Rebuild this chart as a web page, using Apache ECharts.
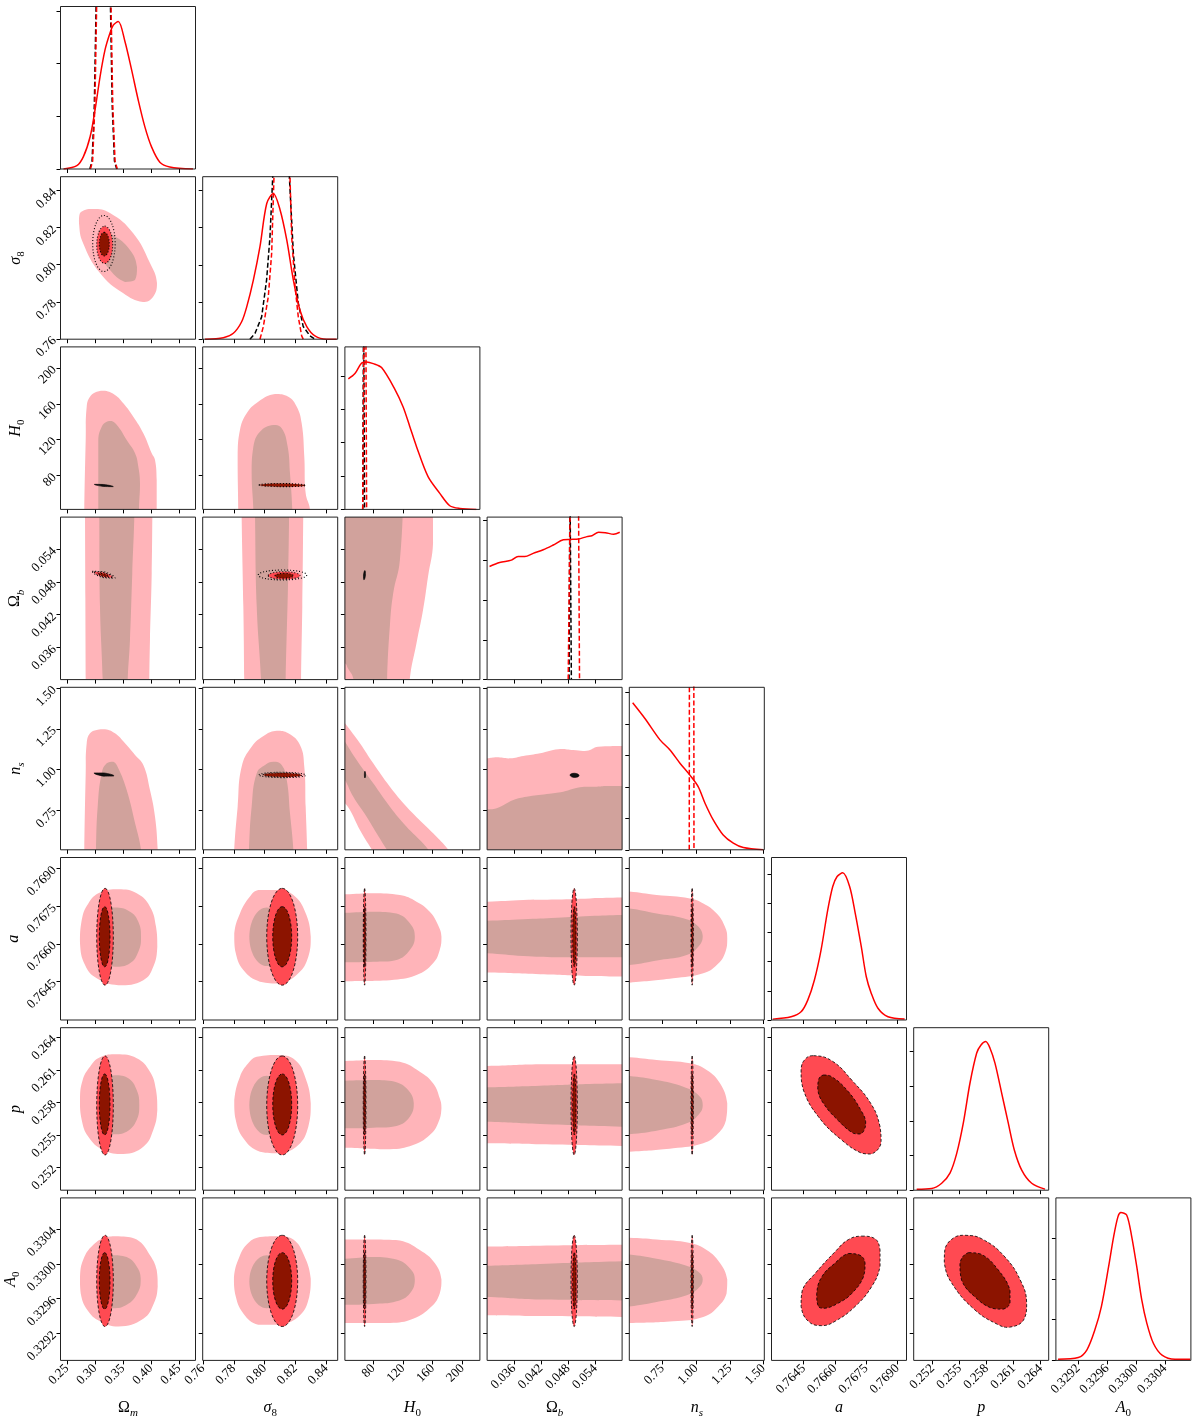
<!DOCTYPE html>
<html><head><meta charset="utf-8">
<script src="https://cdn.jsdelivr.net/npm/echarts@6/dist/echarts.min.js"></script>
<style>html,body{margin:0;padding:0;background:#fff}#c{width:1200px;height:1427px}</style>
</head><body><div id="c"></div>
<script>
// ---------------- parameters / axes ----------------
const PARAM_LABELS = ['{u|Ω}{si|m}', '{i|σ}{su|8}', '{i|H}{su|0}', '{u|Ω}{si|b}', '{i|n}{si|s}', '{i|a}', '{i|p}', '{i|A}{su|0}'];
const AXIS_MIN = [0.2386, 0.7598, 42, 0.0301, 0.504, 0.76296, 0.2499, 0.32889];
const AXIS_MAX = [0.4797, 0.8475, 223.5, 0.0599, 1.506, 0.76944, 0.2649, 0.33076];
const TICK_VALUES = [
  [0.25, 0.30, 0.35, 0.40, 0.45],
  [0.76, 0.78, 0.80, 0.82, 0.84],
  [80, 120, 160, 200],
  [0.036, 0.042, 0.048, 0.054],
  [0.75, 1.00, 1.25, 1.50],
  [0.7645, 0.7660, 0.7675, 0.7690],
  [0.252, 0.255, 0.258, 0.261, 0.264],
  [0.3292, 0.3296, 0.3300, 0.3304]
];
const TICK_LABELS = [
  ['0.25', '0.30', '0.35', '0.40', '0.45'],
  ['0.76', '0.78', '0.80', '0.82', '0.84'],
  ['80', '120', '160', '200'],
  ['0.036', '0.042', '0.048', '0.054'],
  ['0.75', '1.00', '1.25', '1.50'],
  ['0.7645', '0.7660', '0.7675', '0.7690'],
  ['0.252', '0.255', '0.258', '0.261', '0.264'],
  ['0.3292', '0.3296', '0.3300', '0.3304']
];
const DIAG_MAX = [3.084, 4.37, 4.87, 4.08, 5.16, 5.56, 4.68, 3.99];
const DIAG_TICKS = [[0,1,2,3],[0,1,2,3,4],[0,1,2,3,4],[0,1,2,3,4],[0,1,2,3,4,5],[0,1,2,3,4,5],[0,1,2,3,4],[0,1,2,3]];

// ---------------- 1D marginals (diagonal) ----------------
const RED0 = [[0.2440,0],[0.2678,0.063],[0.2795,0.234],[0.2915,0.613],[0.3003,1.12],[0.3092,1.75],[0.3181,2.26],[0.3270,2.58],[0.3329,2.73],[0.3418,2.80],[0.3537,2.42],[0.3656,1.88],[0.3774,1.31],[0.3893,0.80],[0.4012,0.42],[0.4160,0.13],[0.4338,0.04],[0.4752,0]];
const RED0_D = [[0.292,0],[0.296,0.15],[0.300,1.2],[0.304,3.6],[0.308,6.5],[0.312,8.5],[0.316,9],[0.320,8.5],[0.324,6.5],[0.328,3.6],[0.332,1.2],[0.336,0.15],[0.340,0]];
const BLK0_D = [[0.291,0],[0.295,0.15],[0.299,1.2],[0.303,3.6],[0.307,6.5],[0.311,8.5],[0.315,9],[0.319,8.5],[0.323,6.5],[0.327,3.6],[0.331,1.2],[0.335,0.15],[0.339,0]];
const RED1 = [[0.7613,0],[0.7732,0.04],[0.7797,0.16],[0.7851,0.47],[0.7884,0.87],[0.7927,1.59],[0.7970,2.49],[0.8014,3.65],[0.8057,3.92],[0.8100,3.49],[0.8144,2.67],[0.8187,1.59],[0.8230,0.78],[0.8274,0.34],[0.8327,0.09],[0.8403,0],[0.8468,0]];
const BLK1_D = [[0.7905,0],[0.7938,0.16],[0.7981,0.6],[0.8013,1.59],[0.8035,2.75],[0.8053,4.37],[0.8080,6.0],[0.8107,6.8],[0.8134,6.0],[0.8161,4.37],[0.8187,2.3],[0.8219,0.97],[0.8251,0.34],[0.8295,0.09],[0.8327,0]];
const RED1_D = [[0.7970,0],[0.7992,0.34],[0.8024,1.14],[0.8046,2.31],[0.8061,4.37],[0.8087,7],[0.8113,8],[0.8139,7],[0.8165,4.37],[0.8176,2.76],[0.8198,1.41],[0.8219,0.6],[0.8241,0.09],[0.8251,0]];
const RED2 = [[46.6,3.91],[55.5,4.07],[64.5,4.39],[71.2,4.42],[80.1,4.37],[91.3,4.25],[109.2,3.60],[120.3,3.07],[129.3,2.48],[138.3,1.88],[153.8,0.98],[169.6,0.48],[183.0,0.11],[196.4,0.03],[218.7,0]];
const RED2_D = [[65.9,0],[67.5,4.87],[68.9,30],[70.3,4.87],[71.2,0]];
const BLK2_D = [[66.0,0],[66.9,4.87],[67.2,40],[67.5,4.87],[68.4,0]];
const RED3 = [[0.03064,2.84],[0.03287,2.94],[0.03547,3.0],[0.03693,3.09],[0.03842,3.09],[0.04027,3.17],[0.04249,3.26],[0.04471,3.38],[0.04693,3.51],[0.04842,3.52],[0.05026,3.53],[0.05213,3.59],[0.05324,3.61],[0.05471,3.70],[0.05620,3.69],[0.05804,3.65],[0.05938,3.70]];
const RED3_D = [[0.0480,0],[0.0484,4.08],[0.0493,40],[0.0503,4.08],[0.0505,0]];
const BLK3_D = [[0.0482,0],[0.04835,4.08],[0.0484,60],[0.04845,4.08],[0.0487,0]];
const RED4 = [[0.529,4.67],[0.620,4.17],[0.732,3.49],[0.806,3.17],[0.880,2.75],[0.954,2.37],[1.016,2.0],[1.066,1.48],[1.127,0.95],[1.201,0.47],[1.276,0.21],[1.350,0.07],[1.498,0]];
const RED4_D = [[0.949,0],[0.950,5.16],[0.966,50],[0.983,5.16],[0.984,0]];
const RED5 = [[0.76302,0.03],[0.76390,0.11],[0.76438,0.28],[0.76470,0.68],[0.76502,1.37],[0.76534,2.40],[0.76566,3.77],[0.76590,4.57],[0.76611,4.91],[0.76638,5.04],[0.76671,4.57],[0.76698,3.65],[0.76727,2.51],[0.76751,1.48],[0.76775,0.91],[0.76807,0.40],[0.76855,0.11],[0.76935,0.03]];
const RED6 = [[0.25023,0.03],[0.25190,0.05],[0.25301,0.2],[0.25393,0.49],[0.25468,1.06],[0.25541,1.93],[0.25615,3.08],[0.25690,3.95],[0.25738,4.18],[0.25790,4.28],[0.25838,4.09],[0.25893,3.66],[0.25968,2.79],[0.26041,1.93],[0.26108,1.16],[0.26190,0.58],[0.26301,0.2],[0.26449,0.03]];
const RED7 = [[0.32892,0.03],[0.32920,0.07],[0.32932,0.26],[0.32943,0.75],[0.32952,1.32],[0.32962,2.30],[0.32969,3.04],[0.32975,3.53],[0.32979,3.63],[0.32987,3.57],[0.32994,3.04],[0.33001,2.30],[0.33008,1.48],[0.33015,0.91],[0.33024,0.42],[0.33036,0.13],[0.33054,0.03],[0.33075,0.03]];

// ---------------- 2D contours: broad posterior (pink = 2σ, grey = 1σ) ----------------
const S10_PINK = [[0.2734,0.8279],[0.2966,0.8301],[0.3270,0.8279],[0.3681,0.8171],[0.3984,0.8009],[0.4109,0.7901],[0.4038,0.7826],[0.3859,0.7799],[0.3502,0.7847],[0.3091,0.7955],[0.2788,0.8117],[0.2716,0.8225]];
const S10_GREY = [[0.3091,0.8187],[0.3324,0.8160],[0.3627,0.8079],[0.3752,0.7988],[0.3716,0.7917],[0.3538,0.7907],[0.3270,0.7971],[0.3091,0.8063],[0.3056,0.8133]];
const S20_PINK = [[0.2811,20],[0.2811,42],[0.2836,119.5],[0.2854,156.7],[0.2913,167.9],[0.3033,173.5],[0.3181,174.6],[0.3359,169.8],[0.3508,160.5],[0.3686,145.5],[0.3865,127.0],[0.4015,104.7],[0.4074,97.2],[0.4104,74.8],[0.4104,42],[0.4104,20]];
const S20_GREY = [[0.3061,20],[0.3061,42],[0.3061,119.5],[0.3122,134.4],[0.3211,140.0],[0.3300,140.7],[0.3418,134.4],[0.3568,119.5],[0.3717,104.7],[0.3776,89.7],[0.3806,71.2],[0.3788,42],[0.3788,20]];
const S21_PINK = [[0.7829,20],[0.7829,42],[0.7825,100.9],[0.7840,130.7],[0.7884,149.3],[0.7959,162.3],[0.8068,170.9],[0.8154,167.9],[0.8209,156.7],[0.8241,138.2],[0.8258,100.9],[0.8267,60.0],[0.8295,42],[0.8295,20]];
const S21_GREY = [[0.7927,20],[0.7927,42],[0.7916,82.3],[0.7927,112.0],[0.7970,128.8],[0.8057,136.3],[0.8111,132.6],[0.8150,112.0],[0.8165,82.3],[0.8180,42],[0.8180,20]];
const S30_PINK = [[0.2824,0.064],[0.4028,0.064],[0.4026,0.0599],[0.4015,0.0496],[0.3984,0.0374],[0.3972,0.0301],[0.3970,0.026],[0.2836,0.026],[0.2836,0.0301],[0.2830,0.045],[0.2824,0.0599]];
const S30_GREY = [[0.3079,0.064],[0.3704,0.064],[0.3704,0.0599],[0.3668,0.0496],[0.3627,0.0374],[0.3586,0.0301],[0.3583,0.026],[0.3140,0.026],[0.3140,0.0301],[0.3091,0.0435],[0.3079,0.0599]];
const S31_PINK = [[0.7851,0.064],[0.8251,0.064],[0.8251,0.0599],[0.8245,0.0435],[0.8237,0.0301],[0.8237,0.026],[0.7868,0.026],[0.7868,0.0301],[0.7862,0.0435],[0.7851,0.0599]];
const S31_GREY = [[0.7938,0.064],[0.8159,0.064],[0.8159,0.0599],[0.8154,0.0496],[0.8137,0.0301],[0.8137,0.026],[0.7977,0.026],[0.7977,0.0301],[0.7949,0.0435],[0.7938,0.0599]];
const S32_PINK = [[20,0.066],[159,0.066],[160.5,0.0551],[153.8,0.0490],[147.1,0.0429],[138.3,0.0368],[129.3,0.0303],[127,0.024],[20,0.024]];
const S32_GREY = [[20,0.066],[120.3,0.066],[115.9,0.0520],[106.9,0.0459],[102.5,0.0400],[98.8,0.0303],[98.4,0.024],[57,0.024],[53.3,0.0303],[46,0.0322],[42.1,0.0331],[20,0.0345]];
const S40_PINK = [[0.2811,0.40],[0.2811,0.504],[0.2836,0.976],[0.2854,1.161],[0.2913,1.222],[0.3033,1.243],[0.3181,1.247],[0.3359,1.222],[0.3538,1.161],[0.3717,1.089],[0.3865,1.027],[0.3984,0.873],[0.4074,0.708],[0.4122,0.504],[0.4122,0.40]];
const S40_GREY = [[0.3020,0.40],[0.3020,0.504],[0.3050,0.770],[0.3122,0.976],[0.3211,1.037],[0.3329,1.047],[0.3418,1.007],[0.3568,0.873],[0.3717,0.670],[0.3824,0.504],[0.3824,0.40]];
const S41_PINK = [[0.7803,0.40],[0.7803,0.504],[0.7825,0.770],[0.7851,1.016],[0.7916,1.140],[0.8003,1.212],[0.8079,1.238],[0.8154,1.222],[0.8230,1.150],[0.8258,1.016],[0.8267,0.770],[0.8277,0.504],[0.8277,0.40]];
const S41_GREY = [[0.7899,0.40],[0.7899,0.504],[0.7916,0.770],[0.7949,0.976],[0.8003,1.027],[0.8057,1.047],[0.8111,1.027],[0.8144,0.934],[0.8165,0.729],[0.8187,0.504],[0.8187,0.40]];
const S42_PINK = [[20,1.418],[42.1,1.284],[62.2,1.161],[80.1,1.037],[102.5,0.893],[124.9,0.770],[151.7,0.646],[169.6,0.564],[180.6,0.507],[190,0.45],[85.4,0.45],[77.9,0.507],[62.2,0.626],[48.8,0.749],[42.1,0.791],[20,0.91]];
const S42_GREY = [[20,1.33],[42.1,1.171],[57.8,1.058],[80.1,0.914],[102.5,0.770],[124.9,0.646],[142.7,0.564],[153.8,0.507],[161.5,0.45],[105.7,0.45],[98.0,0.507],[84.6,0.606],[71.2,0.708],[53.3,0.831],[42.1,0.934],[20,1.10]];
const S43_PINK = [[0.026,1.068],[0.0301,1.068],[0.0322,1.074],[0.0352,1.068],[0.0381,1.082],[0.0418,1.099],[0.0458,1.124],[0.0491,1.119],[0.0521,1.115],[0.0546,1.140],[0.0600,1.144],[0.064,1.144],[0.064,0.40],[0.026,0.40]];
const S43_GREY = [[0.026,0.754],[0.0301,0.754],[0.0322,0.760],[0.0359,0.811],[0.0388,0.831],[0.0433,0.848],[0.0469,0.862],[0.0506,0.889],[0.0543,0.893],[0.0565,0.897],[0.0600,0.897],[0.064,0.897],[0.064,0.40],[0.026,0.40]];
const S50_PINK = [[0.3418,0.76817],[0.3747,0.76801],[0.3984,0.76748],[0.4092,0.76668],[0.4115,0.76588],[0.4043,0.76508],[0.3865,0.76455],[0.3418,0.76435],[0.3033,0.76462],[0.2824,0.76515],[0.2734,0.76602],[0.2765,0.76695],[0.2883,0.76761],[0.3091,0.76804]];
const S50_GREY = [[0.3359,0.76745],[0.3627,0.76728],[0.3776,0.76688],[0.3824,0.76626],[0.3776,0.76568],[0.3627,0.76522],[0.3359,0.76508],[0.3150,0.76530],[0.3080,0.76626],[0.3150,0.76725]];
const S51_PINK = [[0.7959,0.76814],[0.8100,0.76814],[0.8187,0.76794],[0.8263,0.76728],[0.8300,0.76628],[0.8284,0.76548],[0.8219,0.76482],[0.8100,0.76442],[0.7970,0.76449],[0.7862,0.76495],[0.7808,0.76575],[0.7803,0.76642],[0.7840,0.76721],[0.7905,0.76788]];
const S51_GREY = [[0.8014,0.76745],[0.8122,0.76628],[0.8014,0.76511],[0.7901,0.76628]];
const S52_PINK = [[20,0.76797],[42.1,0.76797],[80.1,0.76801],[115.9,0.76794],[138.3,0.76768],[156.1,0.76728],[167.2,0.76675],[171.8,0.76628],[169.5,0.76575],[160.5,0.76522],[138.3,0.76475],[102.5,0.76455],[42.1,0.76451],[20,0.76451]];
const S52_GREY = [[20,0.76724],[42.1,0.76724],[80.1,0.76728],[111.4,0.76721],[129.3,0.76682],[136.0,0.76628],[129.3,0.76575],[111.4,0.76535],[80.1,0.76528],[42.1,0.76526],[20,0.76526]];
const S53_PINK = [[0.026,0.76768],[0.0301,0.76768],[0.0381,0.76775],[0.0455,0.76777],[0.0528,0.76781],[0.0599,0.76784],[0.064,0.76784],[0.064,0.76469],[0.0599,0.76469],[0.0528,0.76471],[0.0418,0.76478],[0.0301,0.76485],[0.026,0.76485]];
const S53_GREY = [[0.026,0.76692],[0.0301,0.76692],[0.0381,0.76698],[0.0455,0.76704],[0.0528,0.76711],[0.0599,0.76715],[0.064,0.76715],[0.064,0.76546],[0.0599,0.76546],[0.0455,0.76546],[0.0381,0.76551],[0.0301,0.76562],[0.026,0.76562]];
const S54_PINK = [[0.40,0.76808],[0.504,0.76808],[0.707,0.76794],[0.954,0.76781],[1.053,0.76761],[1.153,0.76721],[1.214,0.76668],[1.231,0.76622],[1.214,0.76562],[1.153,0.76515],[1.053,0.76482],[0.830,0.76462],[0.504,0.76445],[0.40,0.76445]];
const S54_GREY = [[0.40,0.76741],[0.504,0.76741],[0.707,0.76721],[0.905,0.76702],[1.004,0.76675],[1.049,0.76631],[1.016,0.76588],[0.930,0.76555],[0.732,0.76535],[0.504,0.76515],[0.40,0.76515]];
const S60_PINK = [[0.3390,0.26244],[0.3747,0.26208],[0.3984,0.26084],[0.4092,0.25915],[0.4115,0.25730],[0.4043,0.25546],[0.3865,0.25392],[0.3508,0.25324],[0.3150,0.25361],[0.2883,0.25484],[0.2765,0.25638],[0.2734,0.25823],[0.2782,0.26007],[0.2913,0.26130],[0.3091,0.26217]];
const S60_GREY = [[0.3359,0.26051],[0.3597,0.26023],[0.3747,0.25915],[0.3793,0.25777],[0.3747,0.25638],[0.3568,0.25530],[0.3329,0.25506],[0.3150,0.25560],[0.3080,0.25777],[0.3150,0.26000]];
const S61_PINK = [[0.7949,0.26222],[0.8100,0.26238],[0.8198,0.26192],[0.8263,0.26038],[0.8300,0.25792],[0.8284,0.25576],[0.8219,0.25407],[0.8100,0.25331],[0.7970,0.25345],[0.7862,0.25469],[0.7808,0.25669],[0.7803,0.25823],[0.7840,0.26038],[0.7894,0.26161]];
const S61_GREY = [[0.8014,0.26047],[0.8122,0.25777],[0.8014,0.25500],[0.7901,0.25777]];
const S62_PINK = [[20,0.26183],[42.1,0.26183],[80.1,0.26192],[115.9,0.26176],[142.7,0.26084],[160.5,0.25977],[169.5,0.25838],[171.8,0.25746],[167.2,0.25608],[156.1,0.25500],[133.7,0.25407],[102.5,0.25368],[42.1,0.25382],[20,0.25382]];
const S62_GREY = [[20,0.26001],[42.1,0.26001],[80.1,0.26007],[109.2,0.25992],[127.0,0.25915],[134.6,0.25792],[129.3,0.25669],[111.4,0.25583],[80.1,0.25567],[42.1,0.25561],[20,0.25561]];
const S63_PINK = [[0.026,0.26136],[0.0301,0.26136],[0.0418,0.26152],[0.0599,0.26152],[0.064,0.26152],[0.064,0.25398],[0.0599,0.25398],[0.0418,0.25414],[0.0301,0.25423],[0.026,0.25423]];
const S63_GREY = [[0.026,0.25940],[0.0301,0.25940],[0.0418,0.25955],[0.0528,0.25970],[0.0599,0.25977],[0.064,0.25977],[0.064,0.25576],[0.0599,0.25576],[0.0418,0.25601],[0.0301,0.25622],[0.026,0.25622]];
const S64_PINK = [[0.40,0.26217],[0.504,0.26217],[0.707,0.26192],[0.954,0.26161],[1.078,0.26100],[1.177,0.25977],[1.231,0.25792],[1.222,0.25638],[1.164,0.25515],[1.053,0.25423],[0.830,0.25377],[0.504,0.25345],[0.40,0.25345]];
const S64_GREY = [[0.40,0.26044],[0.504,0.26044],[0.707,0.26007],[0.905,0.25945],[1.016,0.25869],[1.049,0.25777],[1.016,0.25684],[0.930,0.25608],[0.732,0.25546],[0.504,0.25506],[0.40,0.25506]];
const S70_PINK = [[0.3418,0.33032],[0.3747,0.33028],[0.3984,0.33010],[0.4104,0.32993],[0.4122,0.32974],[0.4056,0.32955],[0.3865,0.32937],[0.3418,0.32928],[0.3091,0.32934],[0.2865,0.32947],[0.2747,0.32966],[0.2734,0.32985],[0.2793,0.33005],[0.2972,0.33022],[0.3211,0.33031]];
const S70_GREY = [[0.3300,0.33010],[0.3568,0.33008],[0.3747,0.32997],[0.3818,0.32982],[0.3758,0.32966],[0.3568,0.32953],[0.3329,0.32949],[0.3150,0.32958],[0.3080,0.32980],[0.3150,0.33003]];
const S71_PINK = [[0.7970,0.33031],[0.8100,0.33032],[0.8187,0.33028],[0.8256,0.33010],[0.8300,0.32983],[0.8290,0.32962],[0.8230,0.32941],[0.8100,0.32930],[0.7959,0.32930],[0.7862,0.32943],[0.7808,0.32966],[0.7801,0.32985],[0.7836,0.33008],[0.7894,0.33024]];
const S71_GREY = [[0.8014,0.33010],[0.8122,0.32980],[0.8014,0.32949],[0.7901,0.32980]];
const S72_PINK = [[20,0.33028],[42.1,0.33028],[80.1,0.33028],[115.9,0.33027],[142.7,0.33016],[162.8,0.33001],[171.8,0.32982],[169.5,0.32966],[158.4,0.32951],[133.7,0.32937],[102.5,0.32932],[42.1,0.32932],[20,0.32932]];
const S72_GREY = [[20,0.33006],[42.1,0.33006],[80.1,0.33008],[111.4,0.33005],[129.3,0.32995],[136.0,0.32982],[129.3,0.32966],[111.4,0.32957],[80.1,0.32954],[42.1,0.32953],[20,0.32953]];
const S73_PINK = [[0.026,0.33020],[0.0301,0.33020],[0.0418,0.33021],[0.0599,0.33022],[0.064,0.33022],[0.064,0.32939],[0.0599,0.32939],[0.0418,0.32940],[0.0301,0.32941],[0.026,0.32941]];
const S73_GREY = [[0.026,0.32998],[0.0301,0.32998],[0.0418,0.33000],[0.0599,0.33003],[0.064,0.33003],[0.064,0.32958],[0.0599,0.32958],[0.0418,0.32959],[0.0301,0.32962],[0.026,0.32962]];
const S74_PINK = [[0.40,0.33030],[0.504,0.33030],[0.707,0.33028],[0.954,0.33024],[1.078,0.33016],[1.177,0.33001],[1.231,0.32982],[1.226,0.32966],[1.164,0.32951],[1.053,0.32939],[0.830,0.32934],[0.504,0.32932],[0.40,0.32932]];
const S74_GREY = [[0.40,0.33011],[0.504,0.33011],[0.707,0.33006],[0.905,0.32999],[1.016,0.32991],[1.049,0.32982],[1.016,0.32972],[0.930,0.32964],[0.732,0.32957],[0.504,0.32951],[0.40,0.32951]];

// ---------------- 2D contours: narrow posteriors ----------------
const S10_OUT = [[0.3161,0.8266],[0.3362,0.8114],[0.3161,0.7963],[0.2961,0.8114]];
const S10_RED = [[0.3175,0.8208],[0.3318,0.8107],[0.3175,0.8007],[0.3033,0.8107]];
const S10_DARK = [[0.3168,0.8175],[0.3258,0.8111],[0.3168,0.8047],[0.3079,0.8111]];
const S20_BLOB = [[0.2990,70.0],[0.3160,69.8],[0.3329,67.4],[0.3160,67.6]];
const S21_OUT = [[0.7964,69.3],[0.8115,71.0],[0.8267,68.8],[0.8115,67.4]];
const S30_OUT = [[0.2954,0.04995],[0.3160,0.04990],[0.3359,0.04873],[0.3160,0.04878]];
const S30_RED = [[0.2990,0.04985],[0.3160,0.04975],[0.3320,0.04880],[0.3160,0.04890]];
const S30_DARK = [[0.3060,0.04960],[0.3160,0.04955],[0.3250,0.04900],[0.3160,0.04905]];
const S31_OUT = [[0.7959,0.04928],[0.8116,0.05020],[0.8274,0.04928],[0.8116,0.04837]];
const S31_RED = [[0.8024,0.04919],[0.8127,0.04989],[0.8230,0.04919],[0.8127,0.04849]];
const S31_DARK = [[0.8068,0.04913],[0.8127,0.04959],[0.8187,0.04913],[0.8127,0.04868]];
const S32_BLOB = [[68.9,0.0501],[69.6,0.04925],[67.6,0.0484],[67.0,0.04925]];
const S40_BLOB = [[0.2984,0.978],[0.3160,0.978],[0.3341,0.960],[0.3160,0.958]];
const S41_OUT = [[0.7964,0.966],[0.8115,0.982],[0.8267,0.964],[0.8115,0.949]];
const S41_DARK = [[0.7990,0.966],[0.8115,0.978],[0.8240,0.964],[0.8115,0.953]];
const S42_BLOB = [[68.9,0.988],[69.8,0.967],[68.9,0.947],[68.2,0.967]];
const S43_BLOB = [[0.0484,0.965],[0.0494,0.976],[0.0504,0.962],[0.0494,0.950]];
// 2σ / 1σ extents of the narrow posterior for each parameter (rows 5-7)
const NARROW_2SIG = [[0.3033,0.3329],[0.8014,0.8215],[66.7,70.3],[0.04862,0.05001],[0.962,0.979],[0.76435,0.76821],[0.25315,0.26229],[0.32928,0.33033]];
const NARROW_1SIG = [[0.3079,0.3270],[0.8053,0.8176],[67.5,69.5],[0.04899,0.04972],[0.966,0.975],[0.76508,0.76748],[0.25500,0.26063],[0.32948,0.33013]];
const S65_OUT = [[0.76497,0.26232],[0.76585,0.26185],[0.76681,0.26007],[0.76777,0.25777],[0.76817,0.25576],[0.76822,0.25423],[0.76777,0.25324],[0.76729,0.25331],[0.76633,0.25453],[0.76521,0.25669],[0.76449,0.25915],[0.76438,0.26100],[0.76457,0.26198]];
const S65_IN = [[0.76545,0.26053],[0.76585,0.26038],[0.76665,0.25899],[0.76729,0.25715],[0.76748,0.25622],[0.76741,0.25546],[0.76721,0.25509],[0.76689,0.25515],[0.76617,0.25632],[0.76545,0.25792],[0.76518,0.25915],[0.76521,0.26007]];
const S75_OUT = [[0.76729,0.33032],[0.76793,0.33029],[0.76817,0.33016],[0.76817,0.32997],[0.76777,0.32974],[0.76697,0.32951],[0.76601,0.32934],[0.76537,0.32929],[0.76473,0.32934],[0.76438,0.32951],[0.76444,0.32970],[0.76505,0.32989],[0.76601,0.33014],[0.76665,0.33028]];
const S75_IN = [[0.76665,0.33012],[0.76721,0.33010],[0.76745,0.33001],[0.76737,0.32985],[0.76681,0.32966],[0.76617,0.32955],[0.76553,0.32949],[0.76521,0.32951],[0.76513,0.32966],[0.76537,0.32985],[0.76601,0.33001]];
const S76_OUT = [[0.25560,0.33033],[0.25745,0.33029],[0.26004,0.33008],[0.26190,0.32978],[0.26245,0.32955],[0.26208,0.32935],[0.26041,0.32927],[0.25930,0.32930],[0.25671,0.32947],[0.25412,0.32978],[0.25330,0.33001],[0.25338,0.33018],[0.25449,0.33031]];
const S76_IN = [[0.25597,0.33013],[0.25745,0.33011],[0.25930,0.32993],[0.26060,0.32970],[0.26060,0.32955],[0.25985,0.32948],[0.25857,0.32949],[0.25671,0.32962],[0.25523,0.32981],[0.25504,0.33001]];

// ---------------- styles ----------------
const C_PINK = '#FFB4B9', C_GREY = '#D1A29C', C_RED = '#FF4A52', C_DARK = '#8C1400';
const ST = {
  pink: {fill: C_PINK},
  grey: {fill: C_GREY},
  red: {fill: C_RED, stroke: '#000', lineWidth: 0.8, lineDash: [3, 2]},
  dark: {fill: C_DARK, stroke: '#000', lineWidth: 0.8, lineDash: [3, 2]},
  dot: {fill: 'none', stroke: '#000', lineWidth: 1.1, lineDash: [1, 2]},
  redDot: {fill: C_RED, stroke: '#000', lineWidth: 1.1, lineDash: [1, 2]},
  darkDot: {fill: C_DARK, stroke: '#000', lineWidth: 1.1, lineDash: [1, 2]},
  blob: {fill: '#111', stroke: '#000', lineWidth: 0.6}
};
const TICK_FONT = 'Liberation Serif';
const NAME_FONT = 'Liberation Serif';
const RICH = {
  u: {fontFamily: NAME_FONT, fontSize: 16, lineHeight: 22, color: '#000'},
  i: {fontFamily: NAME_FONT, fontStyle: 'italic', fontSize: 16, lineHeight: 22, color: '#000'},
  su: {fontFamily: NAME_FONT, fontSize: 11, lineHeight: 12, verticalAlign: 'bottom', color: '#000'},
  si: {fontFamily: NAME_FONT, fontStyle: 'italic', fontSize: 11, lineHeight: 12, verticalAlign: 'bottom', color: '#000'}
};

function makeFmt(p) {
  return function (v) {
    const t = TICK_VALUES[p];
    let b = 0;
    for (let i = 1; i < t.length; i++) if (Math.abs(t[i] - v) < Math.abs(t[b] - v)) b = i;
    return TICK_LABELS[p][b];
  };
}

// ---------------- build option ----------------
const grids = [], xAxis = [], yAxis = [], series = [];
const GI = {};
for (let r = 0; r < 8; r++) {
  for (let c = 0; c <= r; c++) {
    const gi = grids.length;
    GI[r * 8 + c] = gi;
    grids.push({left: 60.5 + c * 142.2, top: 6.5 + r * 170.2, width: 135, height: 162.5, show: false});
    xAxis.push({
      type: 'value', gridIndex: gi, min: AXIS_MIN[c], max: AXIS_MAX[c],
      axisLine: {show: false}, splitLine: {show: false},
      axisTick: {show: true, length: 4, customValues: TICK_VALUES[c], lineStyle: {color: '#000', width: 1}},
      axisLabel: {show: r === 7, customValues: TICK_VALUES[c], rotate: 45, margin: 6, fontFamily: TICK_FONT, fontSize: 13, color: '#000', formatter: makeFmt(c)},
      name: r === 7 ? PARAM_LABELS[c] : '', nameLocation: 'middle', nameGap: 47,
      nameTextStyle: {verticalAlign: 'middle', rich: RICH}
    });
    const diag = r === c;
    yAxis.push({
      type: 'value', gridIndex: gi, min: diag ? 0 : AXIS_MIN[r], max: diag ? DIAG_MAX[r] : AXIS_MAX[r],
      axisLine: {show: false}, splitLine: {show: false},
      axisTick: {show: true, length: 4, customValues: diag ? DIAG_TICKS[r] : TICK_VALUES[r], lineStyle: {color: '#000', width: 1}},
      axisLabel: {show: c === 0 && r > 0, customValues: diag ? DIAG_TICKS[r] : TICK_VALUES[r], rotate: 45, margin: 6, fontFamily: TICK_FONT, fontSize: 13, color: '#000', formatter: makeFmt(r)},
      name: (c === 0 && r > 0) ? PARAM_LABELS[r] : '', nameLocation: 'middle', nameGap: 45, nameRotate: 90,
      nameTextStyle: {verticalAlign: 'middle', rich: RICH}
    });
    // frame
    series.push({
      type: 'custom', xAxisIndex: gi, yAxisIndex: gi, silent: true, z: 20,
      data: [[AXIS_MIN[c], 0]],
      renderItem: function (params, api) {
        const cs = params.coordSys;
        return {type: 'rect', shape: {x: cs.x, y: cs.y, width: cs.width, height: cs.height}, style: {fill: 'none', stroke: '#222', lineWidth: 1}};
      }
    });
  }
}

function addShape(r, c, pts, style, smooth) {
  const gi = GI[r * 8 + c];
  series.push({
    type: 'custom', xAxisIndex: gi, yAxisIndex: gi, silent: true, clip: true, z: 2,
    data: [pts[0]],
    renderItem: function (params, api) {
      const cs = params.coordSys;
      const px = pts.map(function (p) { return api.coord(p); });
      let x0 = Infinity, y0 = Infinity, x1 = -Infinity, y1 = -Infinity;
      px.forEach(function (q) { x0 = Math.min(x0, q[0]); y0 = Math.min(y0, q[1]); x1 = Math.max(x1, q[0]); y1 = Math.max(y1, q[1]); });
      return {
        type: 'polygon',
        shape: {points: px, smooth: smooth, smoothConstraint: [[x0, y0], [x1, y1]]},
        style: style,
        clipPath: {type: 'rect', shape: {x: cs.x, y: cs.y, width: cs.width, height: cs.height}}
      };
    }
  });
}
function ell(xr, yr) {
  const xc = (xr[0] + xr[1]) / 2, yc = (yr[0] + yr[1]) / 2;
  return [[xc, yr[1]], [xr[1], yc], [xc, yr[0]], [xr[0], yc]];
}
function addLine(r, data, color, dashed, width, smooth) {
  const gi = GI[r * 8 + r];
  series.push({
    type: 'line', xAxisIndex: gi, yAxisIndex: gi, data: data, showSymbol: false, symbol: 'none',
    silent: true, clip: true, z: 3, smooth: smooth || false,
    lineStyle: {color: color, width: width, type: dashed ? [5, 2.5] : 'solid'}
  });
}

const SM = 0.45, SE = 0.55;
// rows 1-4
addShape(1,0,S10_PINK,ST.pink,SM); addShape(1,0,S10_GREY,ST.grey,SM);
addShape(1,0,S10_OUT,ST.dot,SE); addShape(1,0,S10_RED,ST.redDot,SE); addShape(1,0,S10_DARK,ST.darkDot,SE);
addShape(2,0,S20_PINK,ST.pink,SM); addShape(2,0,S20_GREY,ST.grey,SM); addShape(2,0,S20_BLOB,ST.blob,SE);
addShape(2,1,S21_PINK,ST.pink,SM); addShape(2,1,S21_GREY,ST.grey,SM); addShape(2,1,S21_OUT,ST.darkDot,SE);
addShape(3,0,S30_PINK,ST.pink,SM); addShape(3,0,S30_GREY,ST.grey,SM);
addShape(3,0,S30_OUT,ST.dot,SE); addShape(3,0,S30_RED,ST.redDot,SE); addShape(3,0,S30_DARK,ST.darkDot,SE);
addShape(3,1,S31_PINK,ST.pink,SM); addShape(3,1,S31_GREY,ST.grey,SM);
addShape(3,1,S31_OUT,ST.dot,SE); addShape(3,1,S31_RED,ST.redDot,SE); addShape(3,1,S31_DARK,ST.darkDot,SE);
addShape(3,2,S32_PINK,ST.pink,SM); addShape(3,2,S32_GREY,ST.grey,SM); addShape(3,2,S32_BLOB,ST.blob,SE);
addShape(4,0,S40_PINK,ST.pink,SM); addShape(4,0,S40_GREY,ST.grey,SM); addShape(4,0,S40_BLOB,ST.blob,SE);
addShape(4,1,S41_PINK,ST.pink,SM); addShape(4,1,S41_GREY,ST.grey,SM); addShape(4,1,S41_OUT,ST.dot,SE); addShape(4,1,S41_DARK,ST.darkDot,SE);
addShape(4,2,S42_PINK,ST.pink,SM); addShape(4,2,S42_GREY,ST.grey,SM); addShape(4,2,S42_BLOB,ST.blob,SE);
addShape(4,3,S43_PINK,ST.pink,SM); addShape(4,3,S43_GREY,ST.grey,SM); addShape(4,3,S43_BLOB,ST.blob,SE);
// rows 5-7, broad posterior
const BROAD = {
  '5_0':[S50_PINK,S50_GREY],'5_1':[S51_PINK,S51_GREY],'5_2':[S52_PINK,S52_GREY],'5_3':[S53_PINK,S53_GREY],'5_4':[S54_PINK,S54_GREY],
  '6_0':[S60_PINK,S60_GREY],'6_1':[S61_PINK,S61_GREY],'6_2':[S62_PINK,S62_GREY],'6_3':[S63_PINK,S63_GREY],'6_4':[S64_PINK,S64_GREY],
  '7_0':[S70_PINK,S70_GREY],'7_1':[S71_PINK,S71_GREY],'7_2':[S72_PINK,S72_GREY],'7_3':[S73_PINK,S73_GREY],'7_4':[S74_PINK,S74_GREY]
};
for (let r = 5; r <= 7; r++) {
  for (let c = 0; c <= 4; c++) {
    const b = BROAD[r + '_' + c];
    addShape(r, c, b[0], ST.pink, SM);
    addShape(r, c, b[1], ST.grey, b[1].length === 4 ? SE : SM);
    addShape(r, c, ell(NARROW_2SIG[c], NARROW_2SIG[r]), ST.red, SE);
    addShape(r, c, ell(NARROW_1SIG[c], NARROW_1SIG[r]), ST.dark, SE);
  }
}
addShape(6,5,S65_OUT,ST.red,SM); addShape(6,5,S65_IN,ST.dark,SM);
addShape(7,5,S75_OUT,ST.red,SM); addShape(7,5,S75_IN,ST.dark,SM);
addShape(7,6,S76_OUT,ST.red,SM); addShape(7,6,S76_IN,ST.dark,SM);

// diagonal 1D curves
const LS = 0.3;
addLine(0, BLK0_D, '#000', true, 1.5); addLine(0, RED0_D, '#FF0000', true, 1.5); addLine(0, RED0, '#FF0000', false, 1.5, LS);
addLine(1, BLK1_D, '#000', true, 1.5); addLine(1, RED1_D, '#FF0000', true, 1.5); addLine(1, RED1, '#FF0000', false, 1.5, LS);
addLine(2, BLK2_D, '#000', true, 1.5); addLine(2, RED2_D, '#FF0000', true, 1.5); addLine(2, RED2, '#FF0000', false, 1.5, LS);
addLine(3, BLK3_D, '#000', true, 1.5); addLine(3, RED3_D, '#FF0000', true, 1.5); addLine(3, RED3, '#FF0000', false, 1.5, LS);
addLine(4, RED4_D, '#FF0000', true, 1.5); addLine(4, RED4, '#FF0000', false, 1.5, LS);
addLine(5, RED5, '#FF0000', false, 1.5, LS);
addLine(6, RED6, '#FF0000', false, 1.5, LS);
addLine(7, RED7, '#FF0000', false, 1.5, LS);

const chart = echarts.init(document.getElementById('c'), null, {renderer: 'canvas'});
chart.setOption({
  animation: false,
  backgroundColor: '#fff',
  grid: grids, xAxis: xAxis, yAxis: yAxis, series: series
});
</script></body></html>
